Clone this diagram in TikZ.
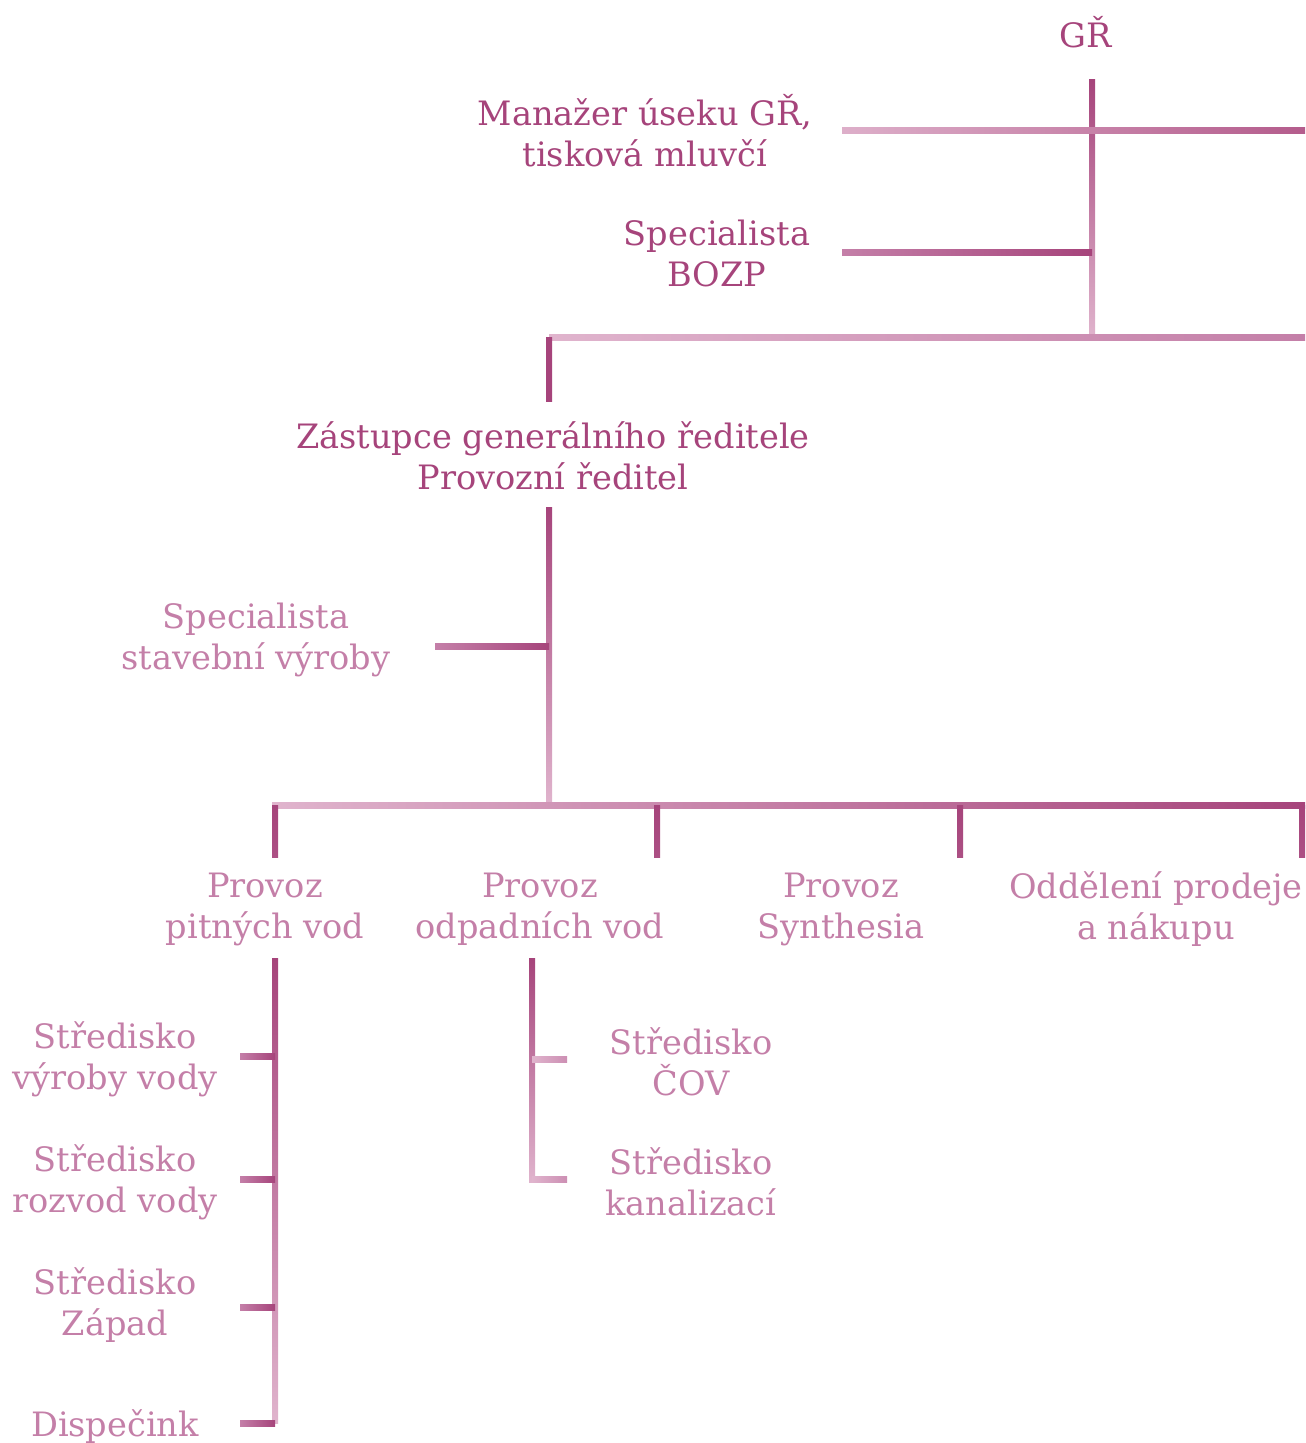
\documentclass[tikz,border=0pt]{standalone}
\usepackage{fontspec}
\setmainfont{DejaVu Serif}
\usetikzlibrary{positioning,calc}
\definecolor{dk}{HTML}{A6447B}
\definecolor{md}{HTML}{C47FA8}
\definecolor{pl}{HTML}{E0B4CD}
\definecolor{mm}{HTML}{B45C8C}
\newcommand*{\hlink}[4]{\shade[left color=#3,right color=#4] ($(#1)+(0,-3)$) rectangle ($(#2)+(0,3)$);}
\newcommand*{\vlink}[4]{\shade[top color=#3,bottom color=#4] ($(#1)+(-3,0)$) rectangle ($(#2)+(3,0)$);}

\begin{document}
\begin{tikzpicture}[x=0.5pt,y=-0.5pt,
      every node/.style={align=center,font=\fontsize{16.8}{20.5}\selectfont},
      head/.style={text=dk}, unit/.style={text=md}]
      \useasboundingbox (0,0) rectangle (1305,1443);
      % top level
      \node[head] (gr) at (1086,32) {GŘ};
      \node[head] (manazer) at (645,131) {Manažer úseku GŘ,\\tisková mluvčí};
      \node[head] (bozp) at (717,253) {Specialista\\BOZP};
      \node[head] (zastupce) at (553,456) {Zástupce generálního ředitele\\Provozní ředitel};
      \node[unit] (stavba) at (256,640) {Specialista\\stavební výroby};
      % provozy
      \node[unit] (pitna) at (265,909) {Provoz\\pitných vod};
      \node[unit] (odpad) at (540,909) {Provoz\\odpadních vod};
      \node[unit] (synth) at (841,909) {Provoz\\Synthesia};
      \node[unit] (prodej) at (1156,909) {Oddělení prodeje\\a nákupu};
      % strediska
      \node[unit] (vyroba) at (115,1059) {Středisko\\výroby vody};
      \node[unit] (rozvod) at (115,1182) {Středisko\\rozvod vody};
      \node[unit] (zapad) at (115,1305) {Středisko\\Západ};
      \node[unit] (dispecink) at (115,1427) {Dispečink};
      \node[unit] (cov) at (691,1062) {Středisko\\ČOV};
      \node[unit] (kanal) at (691,1182) {Středisko\\kanalizací};
      % junctions
      \coordinate (gr-top) at (1092,80);
      \coordinate (gr-bot) at (1092,338);
      \coordinate (man-l) at (842,131);
      \coordinate (man-r) at (1305,131);
      \coordinate (bozp-l) at (842,253);
      \coordinate (bozp-r) at (1092,253);
      \coordinate (row1-l) at (549,338);
      \coordinate (row1-r) at (1305,338);
      \coordinate (zas-in) at (549,402);
      \coordinate (zas-top) at (549,507);
      \coordinate (zas-bot) at (549,805);
      \coordinate (stavba-l) at (435,646);
      \coordinate (stavba-r) at (549,646);
      \coordinate (row2-l) at (272,805);
      \coordinate (row2-r) at (1305,805);
      \coordinate (pit-top) at (275,958);
      \coordinate (pit-bot) at (275,1423);
      \coordinate (odp-top) at (532,958);
      \coordinate (odp-bot) at (532,1182);
      % lines
      \vlink{gr-top}{gr-bot}{dk}{pl}
      \hlink{man-l}{man-r}{pl!90!md}{mm}
      \hlink{bozp-l}{bozp-r}{md}{dk}
      \hlink{row1-l}{row1-r}{pl}{md}
      \vlink{row1-l}{zas-in}{dk}{dk}
      \vlink{zas-top}{zas-bot}{dk}{pl}
      \hlink{stavba-l}{stavba-r}{md}{dk}
      \hlink{row2-l}{row2-r}{pl}{dk}
      \foreach \x in {275,657,960,1302}
        {\vlink{\x,805}{\x,857}{dk}{dk!80!md}}
      \vlink{pit-top}{pit-bot}{dk}{pl}
      \foreach \y in {1056,1179,1307,1423}
        {\hlink{240,\y}{275,\y}{md}{dk}}
      \vlink{odp-top}{odp-bot}{dk}{pl}
      \foreach \y in {1059,1179}
        {\hlink{532,\y}{567,\y}{pl}{md!70!pl}}
    \end{tikzpicture}
\end{document}
